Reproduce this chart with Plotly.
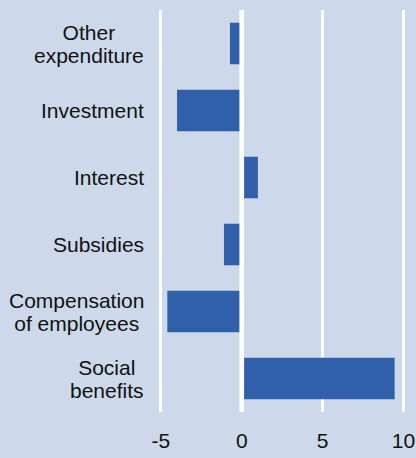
import plotly.graph_objects as go

categories = ["Other<br>expenditure", "Investment", "Interest", "Subsidies",
              "Compensation<br>of employees", "Social<br>benefits"]
values = [-0.73, -4.0, 1.0, -1.1, -4.6, 9.45]
x_ticks = [-5, 0, 5, 10]
x_tick_labels = ["-5", "0", "5", "10"]

BG = "#cdd9ea"
BAR = "#3160ab"
FONT = "Liberation Sans, Arial, sans-serif"

fig = go.Figure(go.Bar(
    x=values, y=categories, orientation="h",
    marker=dict(color=BAR, line=dict(width=0)),
))

annotations = []
for cat in categories:
    txt = "<br>".join(f'<span style="font-size:21px">{p}</span>' for p in cat.split("<br>"))
    annotations.append(dict(
        x=0, xref="paper", y=cat, yref="y", text=txt, showarrow=False,
        xanchor="right", yanchor="middle", align="center", xshift=-12,
        borderpad=0, borderwidth=0,
        font=dict(family=FONT, size=18, color="#111111"),
    ))

fig.update_layout(
    width=416, height=458,
    margin=dict(l=156, r=6, t=10, b=46, autoexpand=False),
    paper_bgcolor=BG, plot_bgcolor=BG,
    bargap=0.38,
    showlegend=False,
    font=dict(family=FONT, size=21, color="#111111"),
    annotations=annotations,
    shapes=[dict(type="line", xref="x", yref="paper", x0=0, x1=0, y0=0, y1=1,
                 line=dict(color="white", width=4.7), layer="above")],
    xaxis=dict(range=[-5.3, 10.4], tickvals=x_ticks, ticktext=x_tick_labels,
               showgrid=True, gridcolor="white", gridwidth=2.7,
               zeroline=False, showline=False, ticks="", automargin=False,
               ticklabelstandoff=14,
               tickfont=dict(family=FONT, size=21, color="#111111")),
    yaxis=dict(autorange="reversed", showticklabels=False, showgrid=False,
               zeroline=False, showline=False, ticks="", automargin=False),
)

fig.write_html(
    "out.html",
    config={"displayModeBar": False},
    post_script="document.body.style.margin='0';document.body.style.overflow='hidden';",
)
